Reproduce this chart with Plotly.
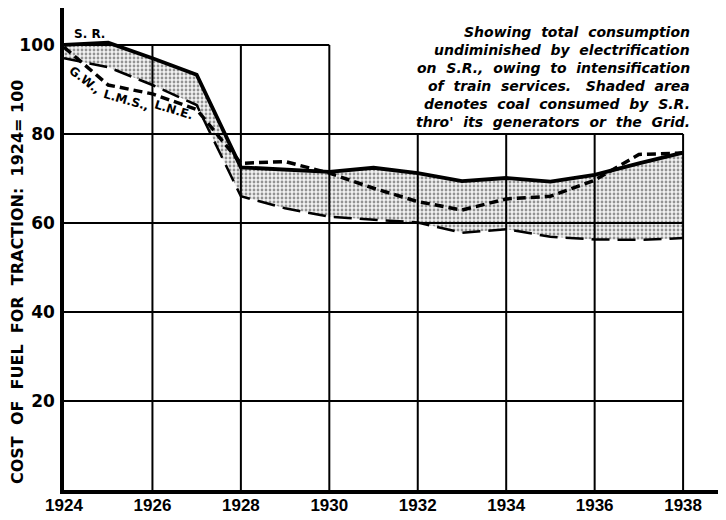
import plotly.graph_objects as go

years = list(range(1924, 1939))
sr = [100, 100.5, 97, 93.3, 72.5, 72, 71.5, 72.4, 71.2, 69.4, 70.1, 69.3, 70.8, 73.4, 75.8]
line_a = [97, 95, 91, 86.5, 66, 63.3, 61.4, 60.7, 60.1, 57.8, 58.6, 56.9, 56.3, 56.2, 56.6]
line_b = [99.5, 91, 89, 85.5, 73.4, 73.8, 71.2, 67.8, 64.8, 62.9, 65.4, 66, 69.6, 75.4, 75.7]

x_ticks = [1924, 1926, 1928, 1930, 1932, 1934, 1936, 1938]
y_ticks = [20, 40, 60, 80, 100]

note_lines = [
    "Showing  total  consumption",
    "undiminished  by  electrification",
    "on  S.R.,  owing  to  intensification",
    "of  train  services.   Shaded  area",
    "denotes  coal  consumed  by  S.R.",
    "thro'  its  generators  or  the  Grid.",
]

BOLD = dict(family="DejaVu Sans", color="black", weight="bold")
NB = "\u00a0\u00a0"

fig = go.Figure()

# lower boundary of shaded area (long dash)
fig.add_trace(go.Scatter(x=years, y=line_a, mode="lines",
                         line=dict(color="black", width=2.5, dash="18px,8px"),
                         hoverinfo="skip", showlegend=False))
# S.R. with shading down to line A
fig.add_trace(go.Scatter(x=years, y=sr, mode="lines", fill="tonexty",
                         fillcolor="rgba(0,0,0,0)",
                         fillpattern=dict(shape=".", size=4, solidity=0.38,
                                          fgcolor="#333333", bgcolor="#f2f2f2"),
                         line=dict(color="black", width=3.8),
                         hoverinfo="skip", showlegend=False))
fig.add_trace(go.Scatter(x=years, y=line_b, mode="lines",
                         line=dict(color="black", width=3.5, dash="9px,5px"),
                         hoverinfo="skip", showlegend=False))

shapes = []
for v in y_ticks:
    x_end = 1930 if v == 100 else 1938
    shapes.append(dict(type="line", xref="x", yref="y", x0=x_ticks[0], x1=x_end,
                       y0=v, y1=v, line=dict(color="black", width=2), layer="above"))
for yr in x_ticks[1:]:
    y_top = 100 if yr <= 1930 else 80
    shapes.append(dict(type="line", xref="x", yref="y", x0=yr, x1=yr,
                       y0=0, y1=y_top, line=dict(color="black", width=2), layer="above"))

# plot area spans page x 62..720, page y 8..490
def px_to_paper_y(py):
    return (490 - py) / 482

def px_to_paper_x(px):
    return (px - 62) / 658

annotations = []
for i, t in enumerate(note_lines):
    annotations.append(dict(text=t, xref="paper", yref="paper", x=px_to_paper_x(690),
                            y=px_to_paper_y(32 + i * 18), xanchor="right", yanchor="middle",
                            showarrow=False,
                            font=dict(family="DejaVu Sans", size=14, color="black",
                                      weight="bold", style="italic")))

annotations += [
    dict(text="S. R.", x=1924.57, y=102.4, showarrow=False, font=dict(size=12, **BOLD)),
    dict(text="G.W.,", x=1924.47, y=92.1, textangle=38, showarrow=False, font=dict(size=12, **BOLD)),
    dict(text="L.M.S.,", x=1925.40, y=87.6, textangle=16, showarrow=False, font=dict(size=12, **BOLD)),
    dict(text="L.N.E.", x=1926.49, y=85.4, textangle=17, showarrow=False, font=dict(size=12, **BOLD)),
    dict(text=NB.join(["COST", "OF", "FUEL", "FOR", "TRACTION:", "1924=\u00a0100"]),
         xref="paper", yref="paper", x=px_to_paper_x(15), y=px_to_paper_y(282),
         textangle=-90, showarrow=False, xanchor="center", yanchor="middle",
         font=dict(size=16, **BOLD)),
]

fig.update_layout(
    width=726, height=520,
    margin=dict(l=56, r=12, t=0, b=38),
    paper_bgcolor="white", plot_bgcolor="white",
    shapes=shapes, annotations=annotations,
    xaxis=dict(range=[1924, 1938.88], tickvals=x_ticks, ticktext=[str(v) for v in x_ticks],
               showgrid=False, zeroline=False, showline=True, linecolor="black", linewidth=3.5,
               ticks="", ticklabelstandoff=-3,
               tickfont=dict(family="Liberation Sans", size=17, color="black", weight="bold")),
    yaxis=dict(range=[0, 108.3], tickvals=y_ticks, ticktext=[str(v) for v in y_ticks],
               showgrid=False, zeroline=False, showline=True, linecolor="black", linewidth=3.5,
               ticks="", ticklabelstandoff=2,
               tickfont=dict(family="DejaVu Sans", size=17, color="black", weight="bold")),
)

fig.write_html("out.html")
